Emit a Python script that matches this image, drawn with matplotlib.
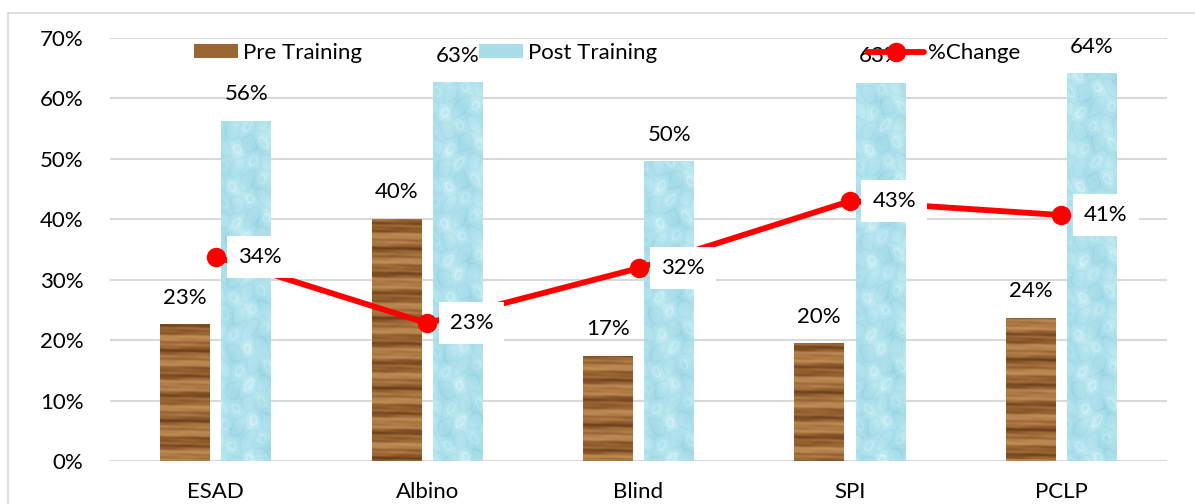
import numpy as np
import matplotlib
matplotlib.use("Agg")
import matplotlib.pyplot as plt
from matplotlib.patches import Patch
from matplotlib.lines import Line2D
from matplotlib.colors import LinearSegmentedColormap

# ---- data -------------------------------------------------------------
categories = ["ESAD", "Albino", "Blind", "SPI", "PCLP"]
pre_training = [0.226, 0.401, 0.174, 0.195, 0.237]
post_training = [0.563, 0.627, 0.496, 0.626, 0.642]
pct_change = [0.338, 0.228, 0.319, 0.430, 0.407]
y_ticks = [0.0, 0.1, 0.2, 0.3, 0.4, 0.5, 0.6, 0.7]

plt.rcParams["font.family"] = ["Lato", "DejaVu Sans"]
FS = 16

W, H, DPI = 1195, 504, 100
fig = plt.figure(figsize=(W / DPI, H / DPI), dpi=DPI)
fig.patch.set_facecolor("white")

ax = fig.add_axes([110 / W, 1 - 461 / H, (1167 - 110) / W, (461 - 38) / H])
x = np.arange(len(categories))
bw = 0.236
off = 0.145

wood_cmap = LinearSegmentedColormap.from_list(
    "wood", ["#5a3214", "#7a4a22", "#9a6634", "#b5814c", "#c29258"])
water_cmap = LinearSegmentedColormap.from_list(
    "water", ["#88c8d8", "#a3dae7", "#b3e4ee", "#cbeef5", "#eafafc"])

px_per_unit_y = 604.3  # pixels for 1.0 on the value axis


def wood_texture(h_px, w_px, phase):
    yy, xx = np.mgrid[0:h_px, 0:w_px].astype(float)
    yy = yy + phase
    v = (0.55
         + 0.22 * np.sin(2 * np.pi * yy / 23.0 + 0.15 * np.sin(xx / 9.0))
         + 0.14 * np.sin(2 * np.pi * yy / 8.7 + 1.3 + 0.3 * np.sin(xx / 6.0))
         + 0.07 * np.sin(2 * np.pi * yy / 4.1 + xx * 0.05))
    return np.clip(v, 0, 1)


def water_texture(h_px, w_px, phase):
    yy, xx = np.mgrid[0:h_px, 0:w_px].astype(float)
    yy = yy + phase
    f = (np.cos(xx * 0.22 + 0.8 * np.sin(yy * 0.12))
         * np.cos(yy * 0.17 + 0.7 * np.sin(xx * 0.13)))
    g = np.sin(xx * 0.15 + yy * 0.09) * np.sin(yy * 0.08 - xx * 0.05)
    v = 0.47 + 0.18 * g
    v += 0.22 * np.exp(-((f - 0.72) ** 2) / 0.012)
    v -= 0.15 * np.exp(-((f + 0.15) ** 2) / 0.03)
    return np.clip(v, 0, 1)


def textured_bars(xpos, vals, cmap, tex_fn):
    bars = ax.bar(xpos, vals, bw, color="none", edgecolor="none", zorder=2)
    for i, (b, v) in enumerate(zip(bars, vals)):
        h_px = max(int(v * px_per_unit_y), 2)
        img = tex_fn(h_px, 50, i * 37.0)
        im = ax.imshow(img, cmap=cmap, vmin=0, vmax=1, aspect="auto",
                       extent=[b.get_x(), b.get_x() + b.get_width(), 0, v],
                       origin="lower", interpolation="bilinear", zorder=2)
        im.set_clip_path(b)
    return bars


pre_bars = textured_bars(x - off, pre_training, wood_cmap, wood_texture)
post_bars = textured_bars(x + off, post_training, water_cmap, water_texture)

ax.plot(x, pct_change, color="#ff0000", lw=4.2, marker="o", ms=13,
        solid_capstyle="round", zorder=4)

# value labels
for xi, v in zip(x - off, pre_training):
    ax.annotate(f"{v * 100:.0f}%", (xi, v), xytext=(0, 19), textcoords="offset points",
                ha="center", va="center", fontsize=FS, color="#000000", zorder=5)
for xi, v in zip(x + off, post_training):
    ax.annotate(f"{v * 100:.0f}%", (xi, v), xytext=(0, 19), textcoords="offset points",
                ha="center", va="center", fontsize=FS, color="#000000", zorder=5)
for xi, v in zip(x, pct_change):
    ax.annotate(f"{v * 100:.0f}%", (xi, v), xytext=(32, 0), textcoords="offset points",
                ha="center", va="center", fontsize=FS, color="#000000", zorder=6,
                bbox=dict(boxstyle="square,pad=0.5", fc="white", ec="none"))

ax.set_xlim(-0.5, len(categories) - 0.5)
ax.set_ylim(0, 0.7)
ax.set_yticks(y_ticks)
ax.set_yticklabels([f"{t * 100:.0f}%" for t in y_ticks], fontsize=FS)
ax.set_xticks(x)
ax.set_xticklabels(categories, fontsize=FS)
ax.tick_params(axis="both", length=0)
ax.tick_params(axis="y", pad=19)
ax.tick_params(axis="x", pad=15)
ax.grid(axis="y", color="#d9d9d9", lw=1.5, zorder=0)
ax.set_axisbelow(True)
for s in ax.spines.values():
    s.set_visible(False)
ax.set_facecolor("none")

# legend entries
leg_font = dict(size=FS)
entries = [
    (Patch(facecolor="#9a6634", edgecolor="none"), "Pre Training", 194, 2.0),
    (Patch(facecolor="#a9dde9", edgecolor="none"), "Post Training", 479, 2.0),
    (Line2D([], [], color="#ff0000", lw=4.2, marker="o", ms=13,
            solid_capstyle="round"), "%Change", 868, 2.5),
]
for handle, label, xl, hl in entries:
    lg = fig.legend([handle], [label], loc="center left",
                    bbox_to_anchor=(xl / W, 1 - 53 / H), frameon=False,
                    prop=leg_font, borderpad=0, borderaxespad=0,
                    handlelength=hl, handleheight=0.6, handletextpad=0.2)

# chart area border
fig.add_artist(Line2D([8 / W, 8 / W], [0, 1 - 13 / H], color="#d9d9d9", lw=1.2))
fig.add_artist(Line2D([8 / W, 1], [1 - 13 / H, 1 - 13 / H], color="#d9d9d9", lw=1.2))

fig.savefig("out.png", dpi=DPI)
